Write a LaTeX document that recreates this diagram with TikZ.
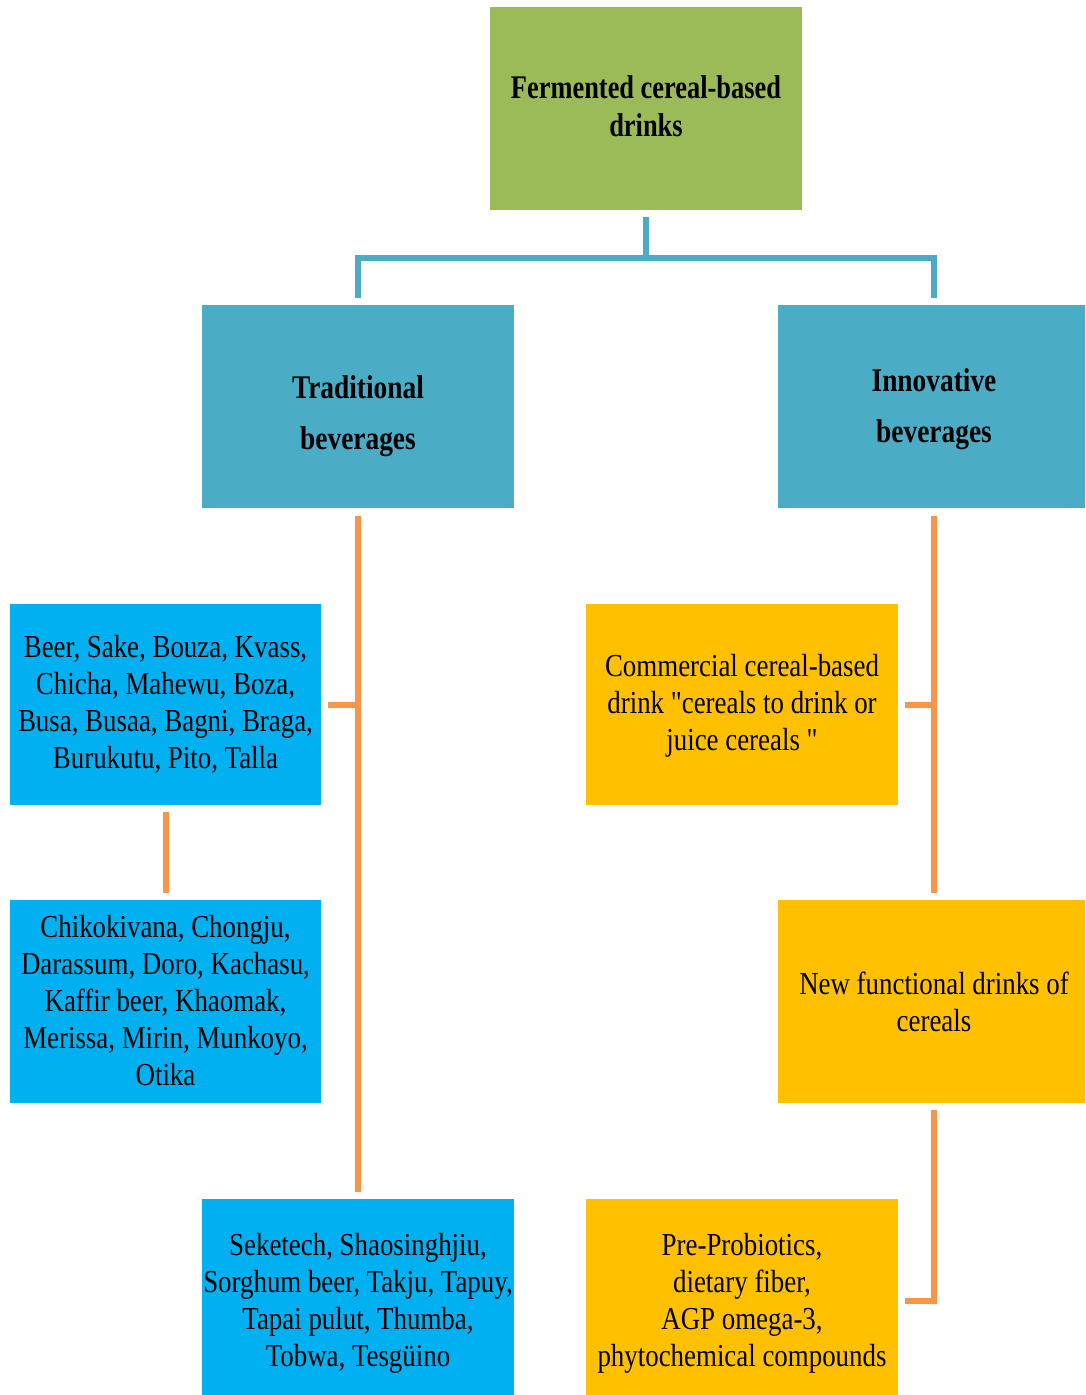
\documentclass[tikz,border=0pt]{standalone}
\usepackage{fontspec}
\setmainfont{Liberation Serif}[FakeStretch=0.84]
\newfontfamily\headfont{Liberation Serif}[FakeStretch=0.83]
\newfontfamily\titlefont{Liberation Serif}[FakeStretch=0.80]
\newfontfamily\qfont{Liberation Serif}[FakeStretch=0.84]
\definecolor{cgreen}{HTML}{9BBB59}
\definecolor{cteal}{HTML}{4BACC6}
\definecolor{cblue}{HTML}{00B0F0}
\definecolor{cgold}{HTML}{FFC000}
\definecolor{corange}{HTML}{F79646}
\tikzset{
  box/.style={minimum width=312pt, minimum height=203pt, inner sep=0pt},
  txt/.style={inner sep=0pt, align=center, text=black},
  plaintxt/.style={txt, font=\fontsize{32}{37}\selectfont},
  headtxt/.style={txt, font=\titlefont\fontsize{33}{38}\selectfont\bfseries},
  subhead/.style={txt, font=\headfont\fontsize{33}{51}\selectfont\bfseries},
  bline/.style={draw=cteal, line width=6pt},
  oline/.style={draw=corange, line width=6pt}
}
\begin{document}
\begin{tikzpicture}[x=1pt,y=-1pt]
\useasboundingbox (0,0) rectangle (1085,1395);
\clip (0,0) rectangle (1085,1395);
\fill[white] (0,0) rectangle (1085,1395);
% boxes
\node[box, fill=cgreen] (top) at (646,108.5) {};
\node[box, fill=cteal] (trad) at (358,406.5) {};
\node[box, fill=cteal] (innov) at (934,406.5) {};
\node[box, fill=cblue, minimum width=311pt, minimum height=201pt] (b1) at (165.5,704.5) {};
\node[box, fill=cblue, minimum width=311pt] (b2) at (165.5,1001.5) {};
\node[box, fill=cblue] (b3) at (358,1300.5) {};
\node[box, fill=cgold, minimum height=201pt] (oa) at (742,704.5) {};
\node[box, fill=cgold] (ob) at (934,1001.5) {};
\node[box, fill=cgold] (oc) at (742,1300.5) {};
% texts
\node[headtxt] (toptxt) at ([yshift=2pt]top.center) {Fermented cereal-based\\drinks};
\node[subhead] (tradtxt) at ([yshift=-10pt]trad.center) {Traditional\\beverages};
\node[subhead] (innovtxt) at ([yshift=-3pt]innov.center) {Innovative\\beverages};
\node[plaintxt] (b1txt) at (b1.center) {Beer, Sake, Bouza, Kvass,\\Chicha, Mahewu, Boza,\\Busa, Busaa, Bagni, Braga,\\Burukutu, Pito, Talla};
\node[plaintxt] (b2txt) at ([yshift=1pt]b2.center) {Chikokivana, Chongju,\\Darassum, Doro, Kachasu,\\Kaffir beer, Khaomak,\\Merissa, Mirin, Munkoyo,\\Otika};
\node[plaintxt] (b3txt) at ([yshift=-2.5pt]b3.center) {Seketech, Shaosinghjiu,\\Sorghum beer, Takju, Tapuy,\\Tapai pulut, Thumba,\\Tobwa, Tesgüino};
\node[plaintxt] (oatxt) at ([yshift=-1.5pt]oa.center) {Commercial cereal-based\\drink {\qfont"}cereals to drink or\\juice cereals {\qfont"}};
\node[plaintxt] (obtxt) at (ob.center) {New functional drinks of\\cereals};
\node[plaintxt] (octxt) at ([yshift=-2.5pt]oc.center) {Pre-Probiotics,\\dietary fiber,\\AGP omega-3,\\phytochemical compounds};
% blue connectors
\draw[bline] ([yshift=-7pt]top.south) -- ([yshift=-48pt]top.south);
\draw[bline] ([yshift=7pt]trad.north) |- ([yshift=-48pt]top.south) -| ([yshift=7pt]innov.north);
% orange connectors, left
\draw[oline] ([yshift=-8pt]trad.south) -- ([yshift=7pt]b3.north);
\draw[oline] ([xshift=7pt]b1.east) -- (b1.east -| trad.south);
\draw[oline] ([yshift=-7pt]b1.south) -- ([yshift=7pt]b2.north);
% orange connectors, right
\draw[oline] ([yshift=-8pt]innov.south) -- ([yshift=7pt]ob.north);
\draw[oline] ([xshift=7pt]oa.east) -- (oa.east -| innov.south);
\draw[oline] ([yshift=-7pt]ob.south) |- ([xshift=7pt]oc.east);
\end{tikzpicture}
\end{document}
